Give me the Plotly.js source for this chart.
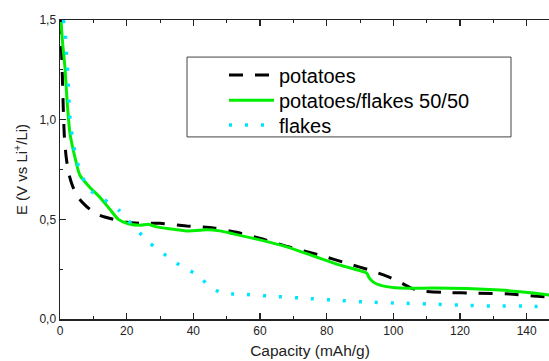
<!DOCTYPE html>
<html>
<head>
<meta charset="utf-8">
<script src="https://cdn.plot.ly/plotly-3.0.1.min.js"></script>
<style>html,body{margin:0;padding:0;overflow:hidden;background:#fff;}</style>
</head>
<body>
<div id="chart" style="width:560px;height:361px;"></div>
<script>
// potatoes (black dashed)
var potX = [0.2, 0.4, 0.7, 1.0, 1.3, 1.8, 2.5, 3.5, 5, 7, 9, 12, 16, 20, 24, 30, 38, 46, 53, 61, 69, 78, 86, 93, 98, 102, 105, 108, 115, 125, 135, 142, 147];
var potY = [1.5, 1.38, 1.22, 1.05, 0.92, 0.82, 0.74, 0.68, 0.62, 0.58, 0.55, 0.52, 0.50, 0.485, 0.48, 0.48, 0.467, 0.457, 0.435, 0.40, 0.36, 0.32, 0.28, 0.245, 0.215, 0.185, 0.158, 0.142, 0.133, 0.13, 0.125, 0.115, 0.11];
// potatoes/flakes 50/50 (green solid)
var mixX = [0.3, 0.8, 1.5, 2.1, 3, 4.5, 6, 9, 12, 15, 17.5, 20.5, 24, 26.5, 29, 33, 38, 42, 44, 48, 52, 60, 68, 76, 84, 92, 92.8, 94, 96, 99, 102, 112, 122, 132, 142, 147];
var mixY = [1.49, 1.38, 1.26, 1.10, 0.93, 0.81, 0.72, 0.66, 0.61, 0.55, 0.50, 0.478, 0.47, 0.475, 0.462, 0.452, 0.442, 0.445, 0.448, 0.442, 0.427, 0.397, 0.362, 0.316, 0.27, 0.23, 0.205, 0.185, 0.17, 0.16, 0.155, 0.155, 0.153, 0.145, 0.13, 0.12];
// flakes (cyan dotted)
var flkX = [1.0, 1.5, 1.8, 2.1, 2.4, 2.6, 2.8, 3.2, 3.9, 4.8, 6.3, 8.7, 13.2, 17.7, 18.6, 22.5, 27, 32, 36.6, 41.4, 44.4, 48.5, 53.5, 63, 72.6, 82, 92, 101, 111, 120, 130, 139, 147];
var flkY = [1.5, 1.45, 1.37, 1.29, 1.21, 1.13, 1.05, 0.97, 0.89, 0.81, 0.73, 0.65, 0.60, 0.545, 0.53, 0.457, 0.38, 0.316, 0.262, 0.22, 0.17, 0.13, 0.125, 0.115, 0.105, 0.095, 0.085, 0.08, 0.075, 0.07, 0.065, 0.065, 0.06];
var xTickVals = [0, 20, 40, 60, 80, 100, 120, 140];
var yTickVals = [0, 0.5, 1.0, 1.5];
var seriesNames = ['potatoes', 'potatoes/flakes 50/50', 'flakes'];

var FONT = 'Liberation Sans, Arial, sans-serif';

var traces = [
  {x: potX, y: potY, name: seriesNames[0], legend: 'legend', mode: 'lines', line: {color: '#000000', width: 3, dash: '14px,12px', shape: 'spline', smoothing: 0.6}},
  {x: mixX, y: mixY, name: seriesNames[1], legend: 'legend2', mode: 'lines', line: {color: '#00ee00', width: 3, shape: 'spline', smoothing: 0.6}},
  {x: flkX, y: flkY, name: seriesNames[2], legend: 'legend3', mode: 'lines', line: {color: '#00e5ff', width: 3.5, dash: '3px,13px', shape: 'spline', smoothing: 0.6}}
];

var axisCommon = {
  showgrid: false, zeroline: false, showline: true, linecolor: '#222', linewidth: 1.5,
  ticks: 'inside', ticklen: 6, tickwidth: 1.2, tickcolor: '#222', mirror: 'ticks',
  tickfont: {family: FONT, size: 12, color: '#222'}
};

function leg(yc) {
  return {
    x: 0.328, y: yc, xanchor: 'left', yanchor: 'middle',
    bgcolor: 'rgba(0,0,0,0)', borderwidth: 0,
    font: {family: FONT, size: 20, color: '#000'},
    itemwidth: 45
  };
}

var layout = {
  width: 560, height: 361,
  margin: {l: 60, r: 0, t: 20, b: 42},
  paper_bgcolor: '#fff', plot_bgcolor: '#fff',
  separators: ',.',
  showlegend: true,
  xaxis: Object.assign({}, axisCommon, {
    range: [0, 150], tickvals: xTickVals, ticktext: xTickVals.map(String),
    minor: {dtick: 10, tick0: 0, ticks: 'inside', ticklen: 3, tickcolor: '#222', tickwidth: 1},
    title: {text: 'Capacity (mAh/g)', font: {family: FONT, size: 15.5, color: '#222'}, standoff: 8}
  }),
  yaxis: Object.assign({}, axisCommon, {
    range: [0, 1.5], tickvals: yTickVals, tickformat: '.1f',
    minor: {dtick: 0.25, tick0: 0, ticks: 'inside', ticklen: 3, tickcolor: '#222', tickwidth: 1},
    title: {text: 'E (V vs Li<sup>+</sup>/Li)', font: {family: FONT, size: 15, color: '#222'}, standoff: 8}
  }),
  legend: leg(0.816),
  legend2: leg(0.732),
  legend3: leg(0.649),
  shapes: [{
    type: 'rect', xref: 'paper', yref: 'paper',
    x0: 0.254, x1: 0.902, y0: 0.609, y1: 0.876,
    line: {color: '#444', width: 1}, fillcolor: 'rgba(0,0,0,0)', layer: 'above'
  }]
};

Plotly.newPlot('chart', traces, layout, {displayModeBar: false, staticPlot: true});
</script>
</body>
</html>
